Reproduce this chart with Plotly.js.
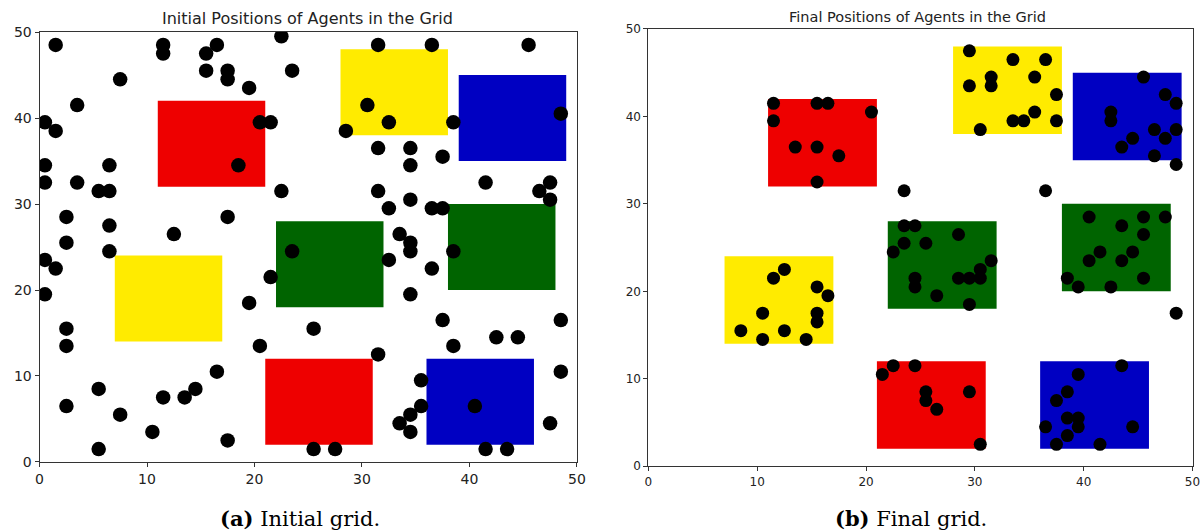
<!DOCTYPE html>
<html>
<head>
<meta charset="utf-8">
<script src="https://cdn.plot.ly/plotly-3.0.1.min.js"></script>
<style>
html,body{margin:0;padding:0;background:#fff;}
#chart{width:1202px;height:532px;}
</style>
</head>
<body>
<div id="chart"></div>
<script>
// Zones (cells are unit squares; agents sit at cell centres)
const zoneX0 = [11, 28, 39, 22, 38, 7, 21, 36];
const zoneX1 = [21, 38, 49, 32, 48, 17, 31, 46];
const zoneY0 = [32, 38, 35, 18, 20, 14, 2, 2];
const zoneY1 = [42, 48, 45, 28, 30, 24, 12, 12];
const zoneColors = ['#ee0000', '#ffeb00', '#0000c2', '#006400', '#006400', '#ffeb00', '#ee0000', '#0000c2'];

// Initial agent positions
const initialX = [1.5,11.5,11.5,15.5,16.5,22.5,15.5,17.5,17.5,23.5,7.5,19.5,3.5,0.5,1.5,20.5,21.5,18.5,0.5,6.5,0.5,3.5,5.5,6.5,22.5,2.5,17.5,6.5,12.5,2.5,6.5,23.5,31.5,36.5,45.5,30.5,32.5,28.5,38.5,48.5,31.5,34.5,34.5,37.5,41.5,47.5,46.5,47.5,31.5,34.5,32.5,36.5,37.5,33.5,34.5,38.5,34.5,32.5,36.5,34.5,37.5,48.5,25.5,42.5,44.5,38.5,31.5,35.5,48.5,35.5,40.5,34.5,33.5,34.5,47.5,25.5,27.5,41.5,43.5,0.5,1.5,0.5,21.5,19.5,2.5,2.5,20.5,16.5,5.5,14.5,11.5,13.5,2.5,7.5,10.5,17.5,5.5];
const initialY = [48.5,48.5,47.5,47.5,48.5,49.5,45.5,45.5,44.5,45.5,44.5,43.5,41.5,39.5,38.5,39.5,39.5,34.5,34.5,34.5,32.5,32.5,31.5,31.5,31.5,28.5,28.5,27.5,26.5,25.5,24.5,24.5,48.5,48.5,48.5,41.5,39.5,38.5,39.5,40.5,36.5,36.5,34.5,35.5,32.5,32.5,31.5,30.5,31.5,30.5,29.5,29.5,29.5,26.5,25.5,24.5,24.5,23.5,22.5,19.5,16.5,16.5,15.5,14.5,14.5,13.5,12.5,9.5,10.5,6.5,6.5,5.5,4.5,3.5,4.5,1.5,1.5,1.5,1.5,23.5,22.5,19.5,21.5,18.5,15.5,13.5,13.5,10.5,8.5,8.5,7.5,7.5,6.5,5.5,3.5,2.5,1.5];

// Final agent positions
const finalX = [11.5,15.5,16.5,20.5,11.5,13.5,15.5,17.5,15.5,
  29.5,33.5,36.5,31.5,35.5,29.5,31.5,37.5,35.5,33.5,34.5,37.5,30.5,
  45.5,47.5,48.5,42.5,42.5,46.5,48.5,44.5,47.5,43.5,46.5,48.5,
  23.5,36.5,48.5,
  23.5,24.5,28.5,23.5,25.5,22.5,31.5,30.5,24.5,28.5,29.5,30.5,24.5,26.5,29.5,
  40.5,45.5,47.5,43.5,45.5,41.5,44.5,40.5,43.5,38.5,45.5,39.5,42.5,
  21.5,22.5,24.5,25.5,25.5,26.5,29.5,30.5,
  43.5,39.5,38.5,37.5,38.5,39.5,36.5,39.5,44.5,38.5,37.5,41.5,
  12.5,11.5,15.5,16.5,10.5,15.5,15.5,8.5,12.5,10.5,14.5];
const finalY = [41.5,41.5,41.5,40.5,39.5,36.5,36.5,35.5,32.5,
  47.5,46.5,46.5,44.5,44.5,43.5,43.5,42.5,40.5,39.5,39.5,39.5,38.5,
  44.5,42.5,41.5,40.5,39.5,38.5,38.5,37.5,37.5,36.5,35.5,34.5,
  31.5,31.5,17.5,
  27.5,27.5,26.5,25.5,25.5,24.5,23.5,22.5,21.5,21.5,21.5,21.5,20.5,19.5,18.5,
  28.5,28.5,28.5,27.5,26.5,24.5,24.5,23.5,23.5,21.5,21.5,20.5,20.5,
  10.5,11.5,11.5,8.5,7.5,6.5,8.5,2.5,
  11.5,10.5,8.5,7.5,5.5,5.5,4.5,4.5,4.5,3.5,2.5,2.5,
  22.5,21.5,20.5,19.5,17.5,17.5,16.5,15.5,15.5,14.5,14.5];

const tickVals = [0, 10, 20, 30, 40, 50];
const tickText = ['0', '10', '20', '30', '40', '50'];
const titles = ['Initial Positions of Agents in the Grid', 'Final Positions of Agents in the Grid'];
const captionTags = ['(a)', '(b)'];
const captionTexts = ['Initial grid.', 'Final grid.'];

const traces = [
  {x: initialX, y: initialY, xaxis: 'x', yaxis: 'y', type: 'scatter', mode: 'markers',
   marker: {color: '#000', size: 14.5}, hoverinfo: 'x+y', showlegend: false},
  {x: finalX, y: finalY, xaxis: 'x2', yaxis: 'y2', type: 'scatter', mode: 'markers',
   marker: {color: '#000', size: 13}, hoverinfo: 'x+y', showlegend: false}
];

const shapes = [];
[['x', 'y'], ['x2', 'y2']].forEach(([xr, yr]) => {
  for (let i = 0; i < zoneX0.length; i++) {
    shapes.push({type: 'rect', xref: xr, yref: yr, x0: zoneX0[i], x1: zoneX1[i], y0: zoneY0[i], y1: zoneY1[i],
      fillcolor: zoneColors[i], line: {width: 0}, layer: 'below'});
  }
});

function axis(domain, anchor, fontSize) {
  return {
    domain: domain, anchor: anchor, range: [0, 50], autorange: false,
    tickvals: tickVals, ticktext: tickText,
    ticks: 'outside', ticklen: 4, tickwidth: 1, tickcolor: '#333',
    showline: true, mirror: true, linecolor: '#333', linewidth: 1,
    showgrid: false, zeroline: false, fixedrange: true,
    tickfont: {family: 'DejaVu Sans', size: fontSize, color: '#222'}
  };
}

const layout = {
  width: 1202, height: 532,
  margin: {l: 0, r: 0, t: 0, b: 0},
  paper_bgcolor: '#fff', plot_bgcolor: '#fff',
  xaxis: axis([0.0329, 0.4800], 'y', 14),
  yaxis: axis([0.1316, 0.9398], 'x', 14),
  xaxis2: axis([0.5394, 0.9921], 'y2', 12),
  yaxis2: axis([0.1237, 0.9455], 'x2', 12),
  shapes: shapes,
  annotations: [
    {text: titles[0], xref: 'paper', yref: 'paper', x: 0.2562, y: 0.9643, showarrow: false,
     xanchor: 'center', yanchor: 'middle', font: {family: 'DejaVu Sans', size: 16, color: '#222'}},
    {text: titles[1], xref: 'paper', yref: 'paper', x: 0.7637, y: 0.9680, showarrow: false,
     xanchor: 'center', yanchor: 'middle', font: {family: 'DejaVu Sans', size: 14.5, color: '#222'}},
    {text: '<b>' + captionTags[0] + '</b> ' + captionTexts[0], xref: 'paper', yref: 'paper', x: 0.2496, y: 0.0263,
     showarrow: false, xanchor: 'center', yanchor: 'middle', font: {family: 'DejaVu Serif', size: 21, color: '#000'}},
    {text: '<b>' + captionTags[1] + '</b> ' + captionTexts[1], xref: 'paper', yref: 'paper', x: 0.7579, y: 0.0263,
     showarrow: false, xanchor: 'center', yanchor: 'middle', font: {family: 'DejaVu Serif', size: 21, color: '#000'}}
  ]
};

Plotly.newPlot('chart', traces, layout, {displayModeBar: false, staticPlot: true});
</script>
</body>
</html>
